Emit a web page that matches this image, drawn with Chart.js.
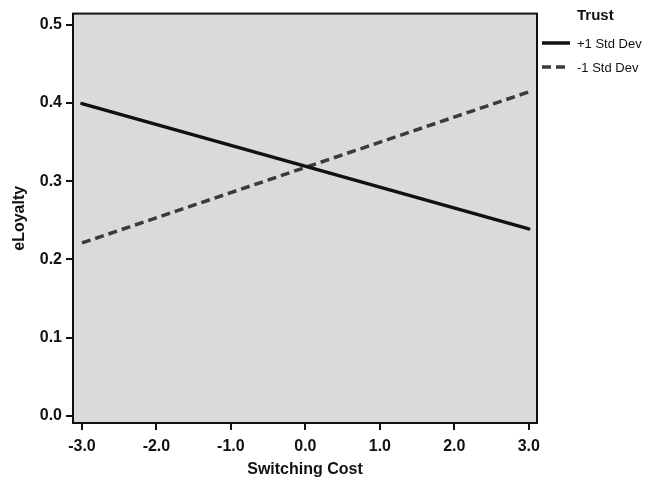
<!DOCTYPE html>
<html>
<head>
<meta charset="utf-8">
<script src="https://cdn.jsdelivr.net/npm/chart.js@4"></script>
<style>
html,body{margin:0;padding:0;background:#fff;}
#wrap{width:654px;height:482px;position:relative;}
</style>
</head>
<body>
<div id="wrap"><canvas id="c" width="654" height="482"></canvas></div>
<script>
const switchingCost = [-3.0, 3.0];
const plusOneSD = [0.399, 0.239];
const minusOneSD = [0.221, 0.414];
const seriesLabels = ['+1 Std Dev', '-1 Std Dev'];
const legendTitle = 'Trust';
const xTicks = [-3, -2, -1, 0, 1, 2, 3];
const yTicks = [0.0, 0.1, 0.2, 0.3, 0.4, 0.5];
const xTitle = 'Switching Cost';
const yTitle = 'eLoyalty';

const toPts = (xs, ys) => xs.map((x, i) => ({x: x, y: ys[i]}));

const framePlugin = {
  id: 'frame',
  beforeDraw(chart) {
    const a = chart.chartArea, ctx = chart.ctx;
    ctx.save();
    ctx.fillStyle = '#dadada';
    ctx.fillRect(a.left, a.top, a.right - a.left, a.bottom - a.top);
    ctx.restore();
  },
  afterDraw(chart) {
    const a = chart.chartArea, ctx = chart.ctx;
    ctx.save();
    ctx.strokeStyle = '#111';
    ctx.lineWidth = 2;
    ctx.strokeRect(a.left, a.top, a.right - a.left, a.bottom - a.top);
    // legend
    const lx = a.right + 5, tx = a.right + 40;
    ctx.fillStyle = '#111';
    ctx.textBaseline = 'middle';
    ctx.textAlign = 'left';
    ctx.font = 'bold 15px "Liberation Sans", Arial, sans-serif';
    ctx.fillText(legendTitle, tx, 16);
    const ys = [43, 67];
    chart.data.datasets.forEach((ds, i) => {
      ctx.beginPath();
      ctx.strokeStyle = ds.borderColor;
      ctx.lineWidth = ds.borderWidth;
      ctx.setLineDash(ds.borderDash || []);
      ctx.moveTo(lx, ys[i]);
      ctx.lineTo(lx + 28, ys[i]);
      ctx.stroke();
      ctx.setLineDash([]);
      ctx.fillStyle = '#111';
      ctx.font = '13px "Liberation Sans", Arial, sans-serif';
      ctx.fillText(ds.label, tx, ys[i] + 1);
    });
    ctx.restore();
  }
};

const tickFont = {family: '"Liberation Sans", Arial, sans-serif', size: 16, weight: 'bold'};
const titleFont = {family: '"Liberation Sans", Arial, sans-serif', size: 16, weight: 'bold'};

new Chart(document.getElementById('c'), {
  type: 'scatter',
  data: {
    datasets: [
      {label: seriesLabels[0], data: toPts(switchingCost, plusOneSD), showLine: true,
       borderColor: '#111111', borderWidth: 3.5, pointRadius: 0, borderCapStyle: 'round', fill: false},
      {label: seriesLabels[1], data: toPts(switchingCost, minusOneSD), showLine: true,
       borderColor: '#3a3a3a', borderWidth: 3.5, borderDash: [9, 5], pointRadius: 0, fill: false}
    ]
  },
  options: {
    responsive: false,
    animation: false,
    layout: {padding: {top: 9, right: 117, left: 0, bottom: 0}},
    plugins: {legend: {display: false}, tooltip: {enabled: false}},
    scales: {
      x: {
        type: 'linear', min: -3.12, max: 3.11,
        afterBuildTicks: (s) => { s.ticks = xTicks.map(v => ({value: v})); },
        afterFit: (s) => { s.height = 59; },
        ticks: {callback: (v) => Number(v).toFixed(1), font: tickFont, color: '#111', padding: 7, maxRotation: 0, autoSkip: false},
        grid: {drawOnChartArea: false, drawTicks: true, tickLength: 7, color: '#111', lineWidth: 2},
        border: {display: false},
        title: {display: true, text: xTitle, font: titleFont, color: '#111', padding: {top: 0, bottom: 3}}
      },
      y: {
        type: 'linear', min: -0.009, max: 0.514,
        afterBuildTicks: (s) => { s.ticks = yTicks.map(v => ({value: v})); },
        afterFit: (s) => { s.width = 73; },
        ticks: {callback: (v) => Number(v).toFixed(1), font: tickFont, color: '#111', padding: 4, autoSkip: false},
        grid: {drawOnChartArea: false, drawTicks: true, tickLength: 7, color: '#111', lineWidth: 2},
        border: {display: false},
        title: {display: true, text: yTitle, font: titleFont, color: '#111', padding: {top: 10, bottom: 0}}
      }
    }
  },
  plugins: [framePlugin]
});
</script>
</body>
</html>
